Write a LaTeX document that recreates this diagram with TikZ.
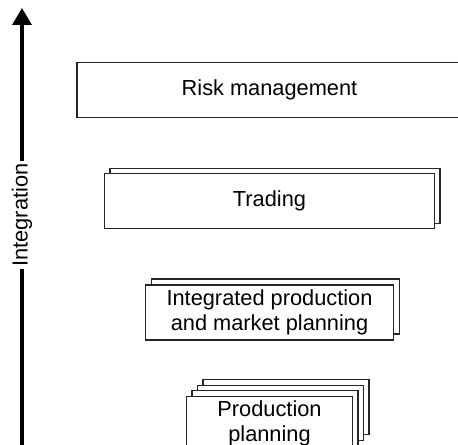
\documentclass[tikz,border=0pt]{standalone}
\usepackage{fontspec}
\setmainfont{Liberation Sans}
\usepackage{tikz}
\usetikzlibrary{arrows.meta, positioning, shadows}

\begin{document}
\begin{tikzpicture}[
    font=\fontsize{12.4}{14.4}\selectfont,
    node distance=11mm,
    >={Triangle[length=3.4mm,width=3.8mm]},
    stage/.style={
        rectangle,
        draw=black!85,
        fill=white,
        line width=0.7pt,
        align=center,
        minimum height=1.1cm,
        inner sep=2pt
    },
    twolayer/.style={
        copy shadow={shadow xshift=#1, shadow yshift=#1}
    },
    fourlayer/.style={
        copy shadow={shadow xshift=3*#1, shadow yshift=3*#1},
        copy shadow={shadow xshift=2*#1, shadow yshift=2*#1},
        copy shadow={shadow xshift=#1, shadow yshift=#1}
    },
    axis/.style={
        line width=2pt,
        draw=black
    },
    axislabel/.style={
        rotate=90,
        fill=white,
        inner sep=1pt
    }
]

\clip (0,0) rectangle (9.16,8.9);

% --- Stages ------------------------------------------------------------------

\node[stage, minimum width=7.7cm] (risk) at (5.39,7.1) {Risk management};

\node[stage, twolayer=1.1mm, minimum width=6.6cm, below=of risk] (trading) {Trading};

\node[stage, twolayer=1.2mm, minimum width=4.96cm, below=of trading] (market)
    {Integrated production\\and market planning};

\node[stage, fourlayer=1.1mm, minimum width=3.32cm, below=of market] (production)
    {Production\\planning};

% --- Integration axis --------------------------------------------------------

\coordinate (axisbot) at (0.44,-0.2);
\coordinate (axistop) at (0.44,8.74);
\node[axislabel] (integration) at (0.44,4.6) {Integration};

\draw[axis] (axisbot) -- (integration);
\draw[axis, ->] (integration) -- (axistop);

\end{tikzpicture}
\end{document}
